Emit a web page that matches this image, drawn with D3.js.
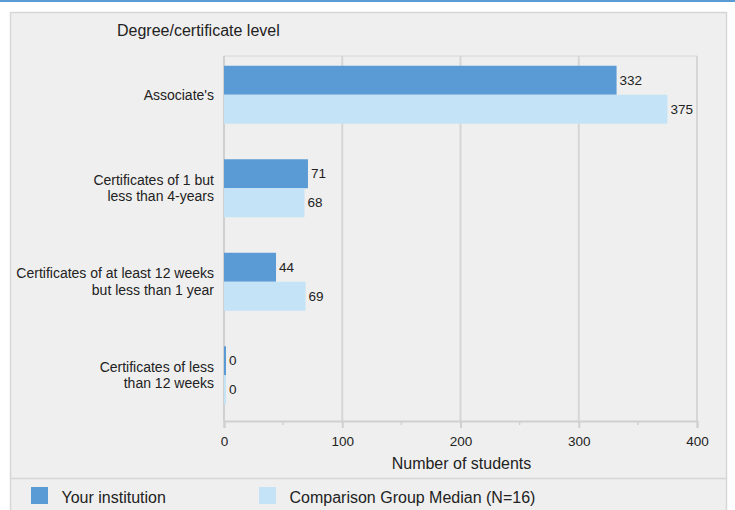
<!DOCTYPE html>
<html><head><meta charset="utf-8">
<script src="https://cdn.jsdelivr.net/npm/d3@7"></script>
<style>body{margin:0;background:#fff;}svg{display:block;font-family:"Liberation Sans",Arial,sans-serif;}</style>
</head><body>
<svg id="c" width="735" height="510"></svg>
<script>
const categories = [
  ["Associate's"],
  ["Certificates of 1 but", "less than 4-years"],
  ["Certificates of at least 12 weeks", "but less than 1 year"],
  ["Certificates of less", "than 12 weeks"]
];
const seriesNames = ["Your institution", "Comparison Group Median (N=16)"];
const yourInstitution = [332, 71, 44, 0];
const comparisonMedian = [375, 68, 69, 0];
const xTicks = [0, 100, 200, 300, 400];
const colors = ["#5b9bd5", "#c5e3f7"];

const svg = d3.select("#c");
svg.append("rect").attr("x",0).attr("y",0).attr("width",735).attr("height",2).attr("fill","#5b9bd5");
svg.append("rect").attr("x",10.5).attr("y",12.5).attr("width",716).attr("height",510)
  .attr("fill","#efefef").attr("stroke","#d6d6d6").attr("stroke-width",1.5);
svg.append("line").attr("x1",10).attr("x2",727).attr("y1",478.5).attr("y2",478.5)
  .attr("stroke","#d6d6d6").attr("stroke-width",1.5);

const x = d3.scaleLinear().domain([0,400]).range([224,697]);
const idx = d3.range(categories.length);
const y = d3.scaleBand().domain(idx).range([48,422]).paddingInner(0.38).paddingOuter(0.19);
const yi = d3.scaleBand().domain([0,1]).range([0,y.bandwidth()]);
const plotTop = 56, plotBottom = 421;

svg.append("g").selectAll("line").data(xTicks.slice(1)).join("line")
  .attr("x1",d=>x(d)).attr("x2",d=>x(d)).attr("y1",plotTop).attr("y2",plotBottom)
  .attr("stroke","#d6d6d6").attr("stroke-width",2);
svg.append("line").attr("x1",x(0)).attr("x2",x(400)).attr("y1",plotTop).attr("y2",plotTop)
  .attr("stroke","#d6d6d6").attr("stroke-width",1);

const xAxis = d3.axisBottom(x).tickValues(xTicks).tickSize(7).tickPadding(8);
const gx = svg.append("g").attr("transform",`translate(0,${plotBottom})`).call(xAxis);
gx.select(".domain").attr("stroke","#d0d0d0").attr("stroke-width",2);
gx.selectAll(".tick line").attr("stroke","#d0d0d0").attr("stroke-width",2);
gx.selectAll("text").attr("font-size",13.5).attr("fill","#222").attr("font-family","Liberation Sans, Arial, sans-serif");
svg.append("g").selectAll("line").data([50,150,250,350]).join("line")
  .attr("x1",d=>x(d)).attr("x2",d=>x(d)).attr("y1",plotBottom).attr("y2",plotBottom+4)
  .attr("stroke","#d0d0d0").attr("stroke-width",1.5);
svg.append("line").attr("x1",x(0)).attr("x2",x(0)).attr("y1",plotTop).attr("y2",plotBottom)
  .attr("stroke","#d0d0d0").attr("stroke-width",2);

const series = [yourInstitution, comparisonMedian];
series.forEach((vals,s)=>{
  const g = svg.append("g");
  g.selectAll("rect").data(vals).join("rect")
    .attr("x",x(0)).attr("y",(d,i)=>y(i)+yi(s))
    .attr("width",d=>Math.max(x(d)-x(0),2)).attr("height",yi.bandwidth())
    .attr("fill",colors[s]);
  g.selectAll("text").data(vals).join("text")
    .attr("x",d=>Math.max(x(d),x(0)+2)+3).attr("y",(d,i)=>y(i)+yi(s)+yi.bandwidth()/2)
    .attr("dy","0.35em").attr("font-size",13.5).attr("fill","#222").text(d=>d);
});

const cl = svg.append("g");
categories.forEach((lines,i)=>{
  const cy = y(i)+y.bandwidth()/2;
  const lh = 16.5;
  const t = cl.append("text").attr("text-anchor","end").attr("font-size",14).attr("fill","#222");
  lines.forEach((ln,j)=>{
    t.append("tspan").attr("x",214).attr("y",cy + (j-(lines.length-1)/2)*lh).attr("dy","0.35em").text(ln);
  });
});

svg.append("text").attr("x",117).attr("y",36).attr("font-size",16).attr("fill","#222").text("Degree/certificate level");
svg.append("text").attr("x",(x(0)+x(400))/2 + 1).attr("y",469).attr("text-anchor","middle").attr("font-size",16).attr("fill","#222").text("Number of students");

const lx = [31, 259];
seriesNames.forEach((n,s)=>{
  svg.append("rect").attr("x",lx[s]).attr("y",487).attr("width",17).attr("height",17).attr("fill",colors[s]);
  svg.append("text").attr("x",lx[s]+30.5).attr("y",497.5).attr("dy","0.35em").attr("font-size",16).attr("fill","#222").text(n);
});
</script>
</body></html>
